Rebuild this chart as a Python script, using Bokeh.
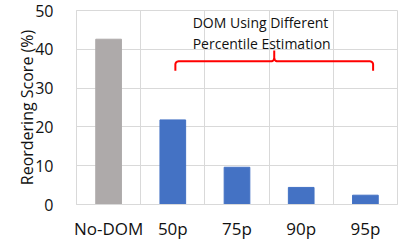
import numpy as np
from bokeh.plotting import figure
from bokeh.models import FixedTicker, Range1d
from bokeh.embed import file_html
from bokeh.resources import INLINE
from bokeh.core.properties import value

# ---- data ----
categories = ["No-DOM", "50p", "75p", "90p", "95p"]
scores = [42.6, 21.8, 9.6, 4.4, 2.4]
bar_colors = ["#AEAAAA", "#4472C4", "#4472C4", "#4472C4", "#4472C4"]
y_ticks = [0, 10, 20, 30, 40, 50]
annotation_lines = ["DOM Using Different", "Percentile Estimation"]

FONT = "Open Sans"
TXT = "#111111"
GRID = "#d9d9d9"

n = len(categories)
xs = [i + 0.5 for i in range(n)]

p = figure(frame_width=321, frame_height=194, output_backend="svg",
           toolbar_location=None,
           x_range=Range1d(0, n), y_range=Range1d(0, 50),
           min_border_left=76, min_border_right=6, min_border_top=10,
           min_border_bottom=34)
p.background_fill_color = "white"
p.border_fill_color = "white"
p.outline_line_color = GRID

p.vbar(x=xs, top=scores, width=0.4, color=bar_colors)

# axes
p.xaxis.ticker = FixedTicker(ticks=xs)
p.xaxis.major_label_overrides = {x: c for x, c in zip(xs, categories)}
p.yaxis.ticker = FixedTicker(ticks=y_ticks)
for ax in (p.xaxis[0], p.yaxis[0]):
    ax.major_tick_line_color = None
    ax.minor_tick_line_color = None
    ax.major_label_text_font = FONT
    ax.major_label_text_color = TXT
p.xaxis.major_label_text_font_size = "17px"
p.yaxis.major_label_text_font_size = "16px"
p.xaxis.axis_line_color = GRID
p.yaxis.axis_line_color = GRID
p.xaxis.major_label_standoff = 6
p.yaxis.major_label_standoff = 17
p.yaxis.axis_label = "Reordering Score (%)"
p.yaxis.axis_label_text_font = FONT
p.yaxis.axis_label_text_font_size = "16px"
p.yaxis.axis_label_text_font_style = "normal"
p.yaxis.axis_label_text_color = TXT
p.yaxis.axis_label_standoff = -6

p.xgrid.ticker = FixedTicker(ticks=list(range(n + 1)))
p.xgrid.grid_line_color = GRID
p.ygrid.ticker = FixedTicker(ticks=y_ticks)
p.ygrid.grid_line_color = GRID

# annotation text
p.text(x=[1.81, 1.81], y=[46.9, 41.4], text=annotation_lines,
       text_font=value(FONT), text_font_size="14px", text_color=TXT,
       text_align="left", text_baseline="alphabetic")

# curly bracket
bx0, bx1, bmid = 1.54, 4.62, 3.08
y_end, y_h, y_top = 34.5, 36.9, 39.7
rx, ry = 0.05, 0.8


def arc(cx, cy, a0, a1, k=8):
    t = np.radians(np.linspace(a0, a1, k))
    return list(cx + rx * np.cos(t)), list(cy + ry * np.sin(t))


ax1, ay1 = arc(bx0 + rx, y_h - ry, 180, 90)
ax2, ay2 = arc(bmid - rx, y_h + ry, 270, 360)
left_x = [bx0] + ax1 + ax2 + [bmid]
left_y = [y_end] + ay1 + ay2 + [y_top]
ax3, ay3 = arc(bmid + rx, y_h + ry, 180, 270)
ax4, ay4 = arc(bx1 - rx, y_h - ry, 90, 0)
right_x = ax3 + ax4 + [bx1]
right_y = ay3 + ay4 + [y_end]
p.line(left_x, left_y, line_color="#ff0000", line_width=2)
p.line(right_x, right_y, line_color="#ff0000", line_width=2)

open("out.html", "w").write(file_html(p, INLINE))
